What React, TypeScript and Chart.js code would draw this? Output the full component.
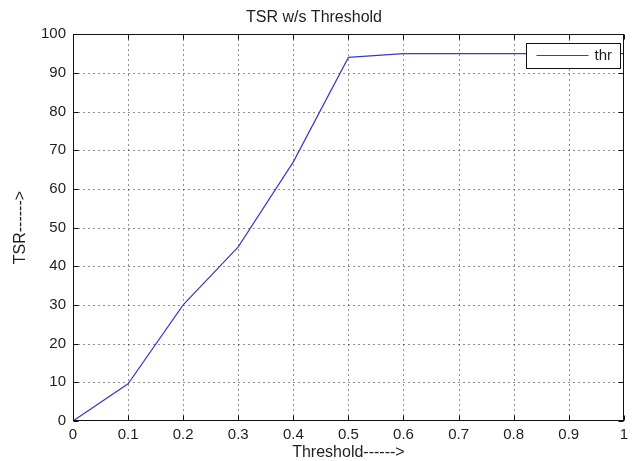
import React, { useEffect, useRef } from 'react';
import { Chart, registerables } from 'chart.js';

Chart.register(...registerables);

const thresholds = [0, 0.1, 0.2, 0.3, 0.4, 0.5, 0.6, 0.7, 0.8, 0.9, 1];
const tsrValues = [0, 9.6, 30, 45, 67, 94, 95, 95, 95, 95, 95];
const xTickLabels = ['0', '0.1', '0.2', '0.3', '0.4', '0.5', '0.6', '0.7', '0.8', '0.9', '1'];
const yTickLabels = ['0', '10', '20', '30', '40', '50', '60', '70', '80', '90', '100'];
const seriesLabel = 'thr';
const chartTitle = 'TSR w/s Threshold';
const xAxisTitle = 'Threshold------>';
const yAxisTitle = 'TSR------>';

const FONT = '"Liberation Sans", Arial, sans-serif';
const LINE_COLOR = '#3a3ac8';
const TEXT_COLOR = '#1e1e1e';

const matlabAxes = {
  id: 'matlabAxes',
  beforeDatasetsDraw(chart: any) {
    const { ctx, chartArea: a, scales } = chart;
    const x = scales.x;
    const y = scales.y;
    const L = Math.round(a.left) + 0.5;
    const R = Math.round(a.right) - 0.5;
    const T = Math.round(a.top) + 0.5;
    const B = Math.round(a.bottom) - 0.5;
    ctx.save();
    ctx.strokeStyle = '#222';
    ctx.lineWidth = 1;
    ctx.setLineDash([1, 4]);
    x.ticks.forEach((t: any) => {
      const px = Math.round(x.getPixelForValue(t.value)) + 0.5;
      if (px <= L + 1 || px >= R - 1) return;
      ctx.beginPath();
      ctx.moveTo(px, B);
      ctx.lineTo(px, T);
      ctx.stroke();
    });
    y.ticks.forEach((t: any) => {
      const py = Math.round(y.getPixelForValue(t.value)) + 0.5;
      if (py <= T + 1 || py >= B - 1) return;
      ctx.beginPath();
      ctx.moveTo(L, py);
      ctx.lineTo(R, py);
      ctx.stroke();
    });
    ctx.restore();
  },
  afterDatasetsDraw(chart: any) {
    const { ctx, chartArea: a, scales } = chart;
    const x = scales.x;
    const y = scales.y;
    const L = Math.round(a.left) + 0.5;
    const R = Math.round(a.right) - 0.5;
    const T = Math.round(a.top) + 0.5;
    const B = Math.round(a.bottom) - 0.5;
    const tl = 5;
    ctx.save();
    ctx.strokeStyle = '#111';
    ctx.lineWidth = 1;
    ctx.setLineDash([]);
    ctx.strokeRect(L, T, R - L, B - T);
    ctx.beginPath();
    x.ticks.forEach((t: any) => {
      const px = Math.round(x.getPixelForValue(t.value)) + 0.5;
      ctx.moveTo(px, B);
      ctx.lineTo(px, B - tl);
      ctx.moveTo(px, T);
      ctx.lineTo(px, T + tl);
    });
    y.ticks.forEach((t: any) => {
      const py = Math.round(y.getPixelForValue(t.value)) + 0.5;
      ctx.moveTo(L, py);
      ctx.lineTo(L + tl, py);
      ctx.moveTo(R, py);
      ctx.lineTo(R - tl, py);
    });
    ctx.stroke();

    // legend box
    const ds = chart.data.datasets[0];
    const bw = 94;
    const bh = 25;
    const bx = R - 3 - bw;
    const by = T + 9;
    ctx.fillStyle = '#ffffff';
    ctx.fillRect(bx, by, bw, bh);
    ctx.strokeStyle = '#111';
    ctx.strokeRect(bx, by, bw, bh);
    ctx.strokeStyle = ds.borderColor;
    ctx.lineWidth = 1.2;
    ctx.beginPath();
    ctx.moveTo(bx + 10, by + 12);
    ctx.lineTo(bx + 62, by + 12);
    ctx.stroke();
    ctx.fillStyle = TEXT_COLOR;
    ctx.font = `15px ${FONT}`;
    ctx.textBaseline = 'middle';
    ctx.textAlign = 'left';
    ctx.fillText(ds.label, bx + 68, by + 12.5);
    ctx.restore();
  },
};

export default function App() {
  const canvasRef = useRef<HTMLCanvasElement | null>(null);

  useEffect(() => {
    document.body.style.margin = '0';
    const canvas = canvasRef.current;
    if (!canvas) return;
    const chart = new Chart(canvas, {
      type: 'line',
      data: {
        datasets: [
          {
            label: seriesLabel,
            data: thresholds.map((t, i) => ({ x: t, y: tsrValues[i] })),
            borderColor: LINE_COLOR,
            backgroundColor: LINE_COLOR,
            borderWidth: 1.2,
            pointRadius: 0,
            tension: 0,
            fill: false,
          },
        ],
      },
      options: {
        responsive: false,
        animation: false,
        devicePixelRatio: 1,
        layout: { padding: { left: 0, right: 5, top: 0, bottom: 0 } },
        plugins: {
          legend: { display: false },
          tooltip: { enabled: false },
          title: {
            display: true,
            text: chartTitle,
            color: TEXT_COLOR,
            font: { family: FONT, size: 16, weight: 'normal', lineHeight: 1.2 },
            padding: { top: 8, bottom: 7 },
          },
        },
        scales: {
          x: {
            type: 'linear',
            min: 0,
            max: 1,
            afterFit: (s: any) => {
              s.height = 40;
            },
            afterBuildTicks: (s: any) => {
              s.ticks = thresholds.map((v) => ({ value: v }));
            },
            ticks: {
              color: TEXT_COLOR,
              font: { family: FONT, size: 15 },
              padding: 5,
              maxRotation: 0,
              autoSkip: false,
              callback: (_v: any, i: number) => xTickLabels[i],
            },
            grid: { display: false, drawTicks: false },
            border: { display: false },
            title: {
              display: true,
              text: xAxisTitle,
              color: TEXT_COLOR,
              font: { family: FONT, size: 16, lineHeight: 1 },
              padding: 0,
            },
          },
          y: {
            type: 'linear',
            min: 0,
            max: 100,
            afterFit: (s: any) => {
              s.width = 73;
            },
            afterBuildTicks: (s: any) => {
              s.ticks = yTickLabels.map((l) => ({ value: Number(l) }));
            },
            ticks: {
              color: TEXT_COLOR,
              font: { family: FONT, size: 15 },
              padding: 7,
              autoSkip: false,
              callback: (_v: any, i: number) => yTickLabels[i],
            },
            grid: { display: false, drawTicks: false },
            border: { display: false },
            title: {
              display: true,
              text: yAxisTitle,
              color: TEXT_COLOR,
              font: { family: FONT, size: 16, lineHeight: 1 },
              padding: 13,
            },
          },
        },
      },
      plugins: [matlabAxes],
    });
    return () => chart.destroy();
  }, []);

  return (
    <div style={{ position: 'absolute', left: 0, top: 0, width: 633, height: 461, background: '#fff' }}>
      <canvas ref={canvasRef} width={633} height={461} />
    </div>
  );
}
